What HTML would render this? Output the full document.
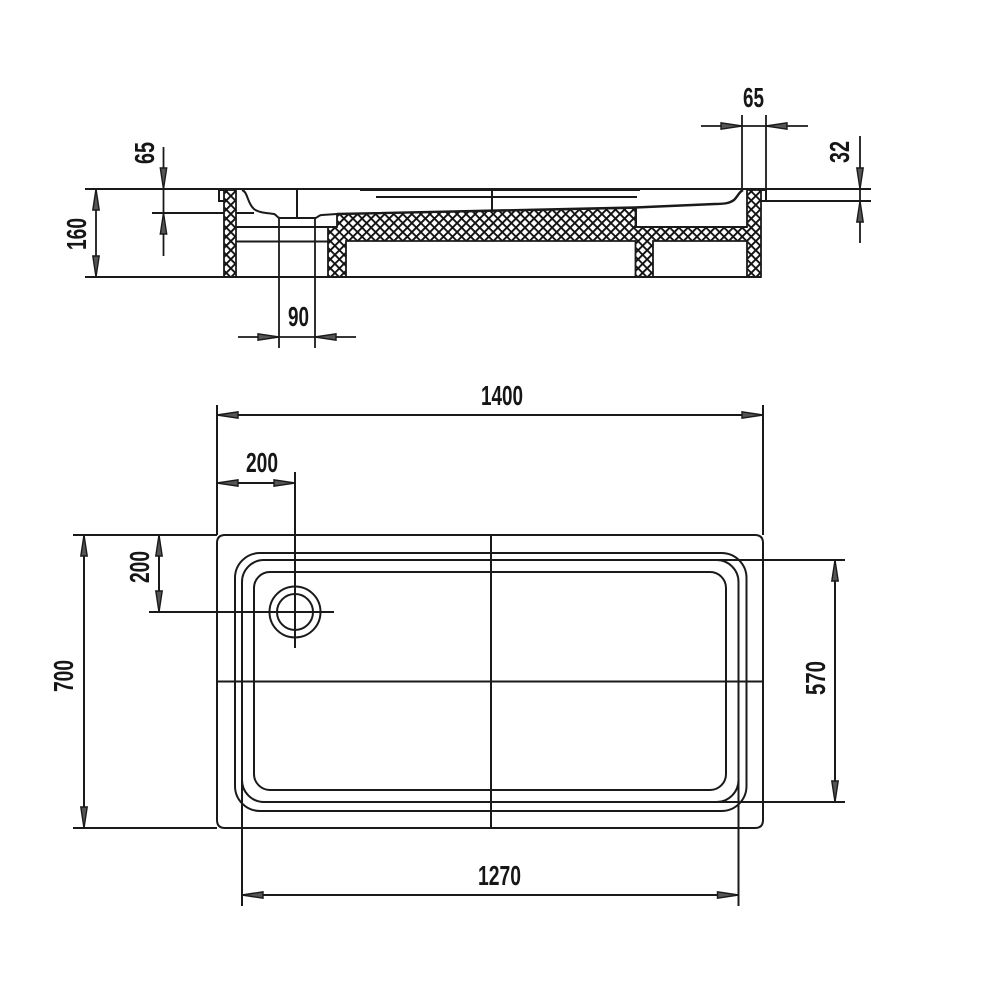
<!DOCTYPE html>
<html>
<head>
<meta charset="utf-8">
<style>
html,body{margin:0;padding:0;background:#fff;width:1000px;height:1000px;overflow:hidden}
svg{display:block}
text{font-family:"Liberation Sans",sans-serif;font-weight:700;font-size:28px;fill:#161616;stroke:none}
</style>
</head>
<body>
<svg width="1000" height="1000" viewBox="0 0 1000 1000" xmlns="http://www.w3.org/2000/svg">
<defs>
<pattern id="h" width="6.4" height="6.4" patternUnits="userSpaceOnUse" patternTransform="rotate(45)">
<rect width="6.4" height="6.4" fill="#fff"/>
<path d="M0 0H6.4M0 0V6.4" stroke="#111" stroke-width="3.8"/>
</pattern>
<path id="a" d="M0 0L-21 -3.200L-21 3.200Z" fill="#555" stroke="#1a1a1a" stroke-width="1.400"/>
</defs>

<!-- section hatch -->
<g stroke="#1a1a1a" stroke-width="1.800" fill="url(#h)">
<rect x="224" y="190" width="12" height="87"/>
<path d="M328 277V227H337V214L635.500 208V227H747V190H761V277H747V241H653V277H635.500V241H346V277Z"/>
</g>

<g fill="none" stroke="#1a1a1a" stroke-linecap="butt">
<!-- section outline -->
<g stroke-width="2">
<path d="M85 189H871"/>
<path d="M85 277H761"/>
<path d="M152 213H224M236 213H254"/>
<path d="M236 227H328M236 241.500H328"/>
<path d="M316 227H337"/>
<path d="M242 190C248 192 247 203 254 209C259 213 268 213 274 214C277 215 277 218 280 218H315C318 218 318 215 322 215L337 214"/>
<path d="M337 214L635 207.500L715 204C725 204 730 203 734 200C738 196 739 192 743 190" stroke-width="2.400"/>
<path d="M219 190V201H224M219 190H224"/>
<path d="M761 190H766V201H761"/>
<path d="M761 201H871"/>
<path d="M297 189V217M492 189V212"/>
<path d="M636 208V227H747"/>
</g>
<path d="M360 189.500H640" stroke-width="3"/>
<path d="M376 197H637" stroke-width="2"/>

<!-- section dims -->
<g stroke-width="1.800">
<path d="M96 189V277"/>
<path d="M163.500 147V256"/>
<path d="M279 218V348M315 218V348M238 337H356"/>
<path d="M742 115V189M766 115V201M701 126H808"/>
<path d="M860 136V243"/>
</g>

<!-- plan -->
<g stroke-width="2">
<path d="M225 535H755Q763 535 763 543V820Q763 828 755 828H225Q217 828 217 820V543Q217 535 225 535Z"/>
<rect x="235" y="553" width="511.500" height="258" rx="25"/>
<rect x="242" y="560" width="496.500" height="242" rx="22"/>
<rect x="254" y="572" width="472" height="218" rx="16"/>
<circle cx="295" cy="612" r="25.500"/>
<circle cx="295" cy="612" r="18"/>
<path d="M73 535H217M73 828H217"/>
<path d="M217 405V535M763 405V535"/>
<path d="M217 415H763"/>
<path d="M217 483H295M295 472V648M149 612H334"/>
<path d="M159 535V612M84 535V828"/>
<path d="M491 535V828M217 681.500H763"/>
<path d="M716 560H845M716 802H845M835 560V802"/>
<path d="M242 780V906M738.500 780V906M242 895H738.500"/>
</g>
</g>

<!-- arrowheads -->
<use href="#a" transform="translate(96,189) rotate(-90)"/>
<use href="#a" transform="translate(96,277) rotate(90)"/>
<use href="#a" transform="translate(163.500,189) rotate(90)"/>
<use href="#a" transform="translate(163.500,213) rotate(-90)"/>
<use href="#a" transform="translate(279,337)"/>
<use href="#a" transform="translate(315,337) rotate(180)"/>
<use href="#a" transform="translate(742,126)"/>
<use href="#a" transform="translate(766,126) rotate(180)"/>
<use href="#a" transform="translate(860,189) rotate(90)"/>
<use href="#a" transform="translate(860,201) rotate(-90)"/>
<use href="#a" transform="translate(217,415) rotate(180)"/>
<use href="#a" transform="translate(763,415)"/>
<use href="#a" transform="translate(217,483) rotate(180)"/>
<use href="#a" transform="translate(295,483)"/>
<use href="#a" transform="translate(159,535) rotate(-90)"/>
<use href="#a" transform="translate(159,612) rotate(90)"/>
<use href="#a" transform="translate(84,535) rotate(-90)"/>
<use href="#a" transform="translate(84,828) rotate(90)"/>
<use href="#a" transform="translate(835,560) rotate(-90)"/>
<use href="#a" transform="translate(835,802) rotate(90)"/>
<use href="#a" transform="translate(242,895) rotate(180)"/>
<use href="#a" transform="translate(738.500,895)"/>

<!-- labels -->
<text x="481" y="405" textLength="42" lengthAdjust="spacingAndGlyphs">1400</text>
<text x="246" y="472" textLength="32" lengthAdjust="spacingAndGlyphs">200</text>
<text x="478" y="885" textLength="43" lengthAdjust="spacingAndGlyphs">1270</text>
<text x="288" y="326" textLength="21" lengthAdjust="spacingAndGlyphs">90</text>
<text x="743" y="107" textLength="21" lengthAdjust="spacingAndGlyphs">65</text>
<text transform="translate(154,164) rotate(-90)" textLength="22" lengthAdjust="spacingAndGlyphs">65</text>
<text transform="translate(86,250) rotate(-90)" textLength="32" lengthAdjust="spacingAndGlyphs">160</text>
<text transform="translate(849,163) rotate(-90)" textLength="22" lengthAdjust="spacingAndGlyphs">32</text>
<text transform="translate(149,583) rotate(-90)" textLength="32" lengthAdjust="spacingAndGlyphs">200</text>
<text transform="translate(73,692) rotate(-90)" textLength="32" lengthAdjust="spacingAndGlyphs">700</text>
<text transform="translate(825,695) rotate(-90)" textLength="34" lengthAdjust="spacingAndGlyphs">570</text>
</svg>
</body>
</html>
